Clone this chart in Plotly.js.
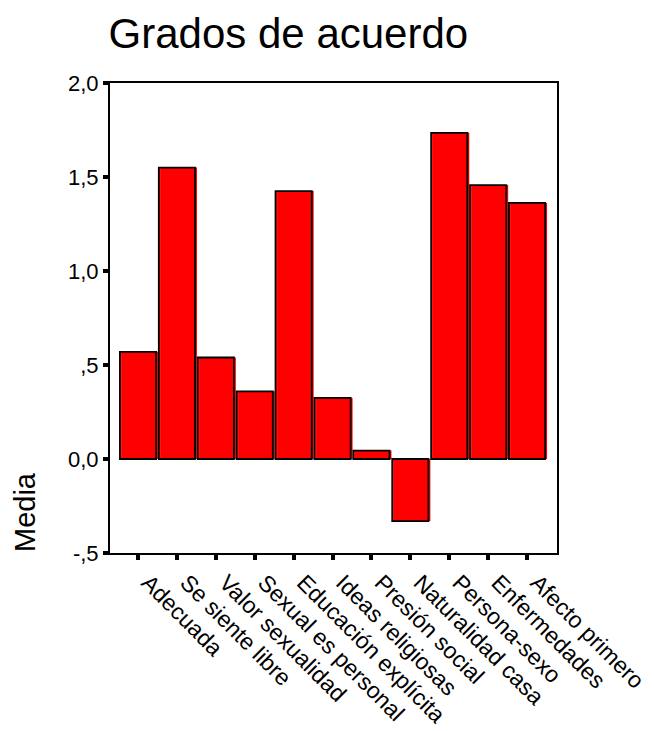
<!DOCTYPE html>
<html>
<head>
<meta charset="utf-8">
<script src="https://cdn.plot.ly/plotly-3.0.1.min.js"></script>
<style>html,body{margin:0;padding:0;background:#fff;}#chart{width:654px;height:731px;}</style>
</head>
<body>
<div id="chart"></div>
<script>
const categories = ["Adecuada", "Se siente libre", "Valor sexualidad", "Sexual es personal", "Educación explícita", "Ideas religiosas", "Presión social", "Naturalidad casa", "Persona-sexo", "Enfermedades", "Afecto primero"];
const means = [0.57, 1.55, 0.54, 0.36, 1.425, 0.325, 0.045, -0.33, 1.735, 1.457, 1.362];
const yTickVals = [-0.5, 0, 0.5, 1, 1.5, 2];
const yTickText = ["-,5", "0,0", ",5", "1,0", "1,5", "2,0"];

const font = "Arial, 'Liberation Sans', sans-serif";
const xIdx = categories.map((c, i) => i);
const barW = 0.93;

const data = [
  { // fill, slightly offset to the right (shadow effect)
    type: "bar", x: xIdx, y: means, width: barW, offset: -barW / 2 + 0.05,
    marker: {color: "#FF0000", line: {width: 0}}, hoverinfo: "skip"
  },
  { // outline on top
    type: "bar", x: xIdx, y: means, width: barW, offset: -barW / 2,
    marker: {color: "rgba(255,0,0,0.9)", line: {color: "#000000", width: 1.8}}, hoverinfo: "skip"
  }
];

const layout = {
  width: 654, height: 731,
  margin: {l: 110, r: 97, t: 83, b: 178},
  paper_bgcolor: "#fff", plot_bgcolor: "#fff",
  showlegend: false, barmode: "overlay",
  font: {family: font, color: "#000", size: 20},
  title: {text: "Grados de acuerdo", font: {family: font, size: 42, color: "#000"},
          x: 0.441, xanchor: "center", xref: "container", y: 1 - 33/731, yref: "container", yanchor: "middle"},
  xaxis: {
    range: [-0.72, 10.77],
    tickvals: xIdx, ticktext: categories, tickangle: 45,
    ticks: "outside", ticklen: 5, tickwidth: 4, tickcolor: "#000",
    ticklabelshift: 10,
    showline: true, linecolor: "#000", linewidth: 2, mirror: true,
    showgrid: false, zeroline: false,
    tickfont: {family: font, size: 23, color: "#000"}
  },
  yaxis: {
    range: [-0.5, 2.0],
    tickvals: yTickVals, ticktext: yTickText,
    ticks: "outside", ticklen: 5, tickwidth: 4, tickcolor: "#000",
    showline: true, linecolor: "#000", linewidth: 2, mirror: true,
    showgrid: false, zeroline: false,
    tickfont: {family: font, size: 22, color: "#000"}
  },
  annotations: [{
    text: "Media", textangle: -90, xref: "paper", yref: "paper",
    x: (25 - 110) / 447, y: (553 - 512) / 470, xanchor: "center", yanchor: "middle",
    showarrow: false, font: {family: font, size: 29, color: "#000"}
  }]
};

Plotly.newPlot("chart", data, layout, {staticPlot: true, displayModeBar: false});
</script>
</body>
</html>
